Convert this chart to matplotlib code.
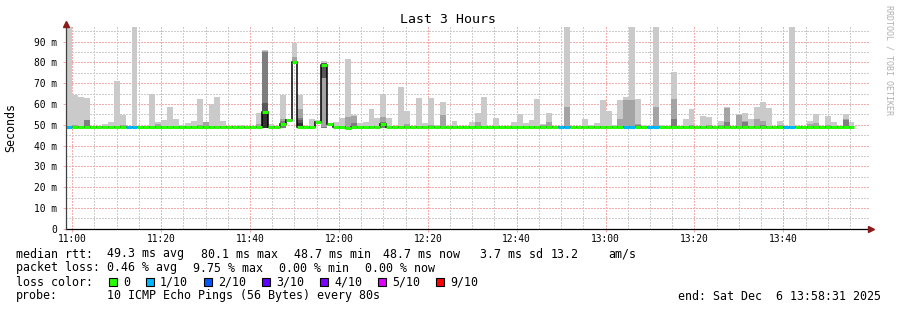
import numpy as np
import matplotlib
matplotlib.use("Agg")
import matplotlib.pyplot as plt
from matplotlib.patches import Rectangle

W, H = 897, 310
STEP = 80 / 60.0  # one probe round = 80 s, x axis is minutes after 11:00

# smoke: sorted pings per 80 s round (ms); p10 = slowest, p9, p8 inner ones
smoke_max = [
    97.0, 64.3, 63.4, 62.9, 48.9, 49.5, 50.5, 51.5, 71.0, 54.7,
    48.9, 97.0, 49.5, 48.9, 64.8, 51.3, 52.3, 58.4, 52.8, 50.0,
    50.7, 51.8, 62.4, 51.5, 60.2, 63.4, 51.8, 48.9, 48.9, 50.0,
    49.5, 48.9, 55.6, 86.0, 50.5, 49.6, 64.3, 52.8, 89.2, 64.3,
    48.9, 52.8, 52.3, 80.7, 50.8, 51.5, 53.4, 81.7, 54.7, 51.0,
    51.3, 57.5, 53.4, 64.8, 53.4, 48.9, 68.2, 56.6, 49.5, 62.8,
    50.7, 62.8, 50.0, 60.8, 48.9, 51.8, 49.6, 48.9, 51.3, 55.6,
    63.3, 48.9, 53.2, 48.9, 48.9, 51.3, 55.2, 50.7, 52.2, 62.4,
    50.3, 55.6, 48.9, 48.9, 97.0, 48.9, 48.9, 53.0, 50.0, 50.7,
    62.0, 56.6, 50.0, 62.0, 63.4, 97.0, 62.2, 50.0, 48.9, 97.0,
    50.0, 48.9, 75.4, 48.9, 52.7, 57.5, 48.9, 54.2, 53.7, 48.9,
    51.8, 58.6, 48.9, 55.0, 55.5, 52.8, 58.4, 61.0, 58.0, 48.9,
    51.8, 48.9, 97.0, 48.9, 48.9, 51.8, 55.2, 48.9, 54.2, 51.3,
    48.9, 55.2, 51.3]
smoke_p9 = [
    48.9, 50.0, 48.9, 52.5, 48.9, 48.9, 48.9, 48.9, 48.9, 50.0,
    48.9, 48.9, 48.9, 48.9, 48.9, 50.2, 48.9, 48.9, 48.9, 48.9,
    48.9, 48.9, 50.0, 51.3, 48.9, 48.9, 48.9, 48.9, 48.9, 48.9,
    48.9, 48.9, 50.2, 85.5, 48.9, 48.9, 52.6, 48.9, 82.8, 57.8,
    48.9, 48.9, 48.9, 79.6, 48.9, 48.9, 48.9, 53.9, 54.2, 48.9,
    48.9, 48.9, 48.9, 53.9, 48.9, 48.9, 48.9, 50.2, 48.9, 48.9,
    48.9, 50.0, 48.9, 54.7, 48.9, 48.9, 48.9, 48.9, 48.9, 51.3,
    48.9, 48.9, 48.9, 48.9, 48.9, 48.9, 48.9, 48.9, 48.9, 48.9,
    50.0, 51.3, 48.9, 48.9, 58.4, 48.9, 48.9, 48.9, 48.9, 48.9,
    48.9, 48.9, 48.9, 53.0, 62.0, 62.0, 50.2, 48.9, 48.9, 58.4,
    48.9, 48.9, 62.4, 48.9, 48.9, 50.0, 48.9, 48.9, 50.0, 48.9,
    50.0, 58.0, 48.9, 54.7, 52.0, 48.9, 52.7, 52.0, 48.9, 48.9,
    50.0, 48.9, 48.9, 48.9, 48.9, 50.3, 51.0, 48.9, 50.0, 48.9,
    48.9, 52.8, 48.9]
smoke_p8 = [
    48.9, 48.9, 48.9, 52.3, 48.9, 48.9, 48.9, 48.9, 48.9, 48.9,
    48.9, 48.9, 48.9, 48.9, 48.9, 48.9, 48.9, 48.9, 48.9, 48.9,
    48.9, 48.9, 48.9, 48.9, 48.9, 48.9, 48.9, 48.9, 48.9, 48.9,
    48.9, 48.9, 48.9, 85.2, 48.9, 48.9, 51.8, 48.9, 48.9, 53.5,
    48.9, 48.9, 48.9, 48.9, 48.9, 48.9, 48.9, 48.9, 51.0, 48.9,
    48.9, 48.9, 48.9, 51.5, 48.9, 48.9, 48.9, 48.9, 48.9, 48.9,
    48.9, 48.9, 48.9, 48.9, 48.9, 48.9, 48.9, 48.9, 48.9, 48.9,
    48.9, 48.9, 48.9, 48.9, 48.9, 48.9, 48.9, 48.9, 48.9, 48.9,
    48.9, 48.9, 48.9, 48.9, 48.9, 48.9, 48.9, 48.9, 48.9, 48.9,
    48.9, 48.9, 48.9, 48.9, 48.9, 48.9, 50.0, 48.9, 48.9, 48.9,
    48.9, 48.9, 52.8, 48.9, 48.9, 48.9, 48.9, 48.9, 48.9, 48.9,
    48.9, 51.3, 48.9, 48.9, 51.3, 48.9, 48.9, 50.0, 48.9, 48.9,
    48.9, 48.9, 48.9, 48.9, 48.9, 48.9, 48.9, 48.9, 48.9, 48.9,
    48.9, 52.5, 48.9]
smoke_min = [
    48.6, 48.6, 48.6, 48.6, 48.6, 48.6, 48.6, 48.6, 48.6, 48.6,
    48.6, 48.6, 48.6, 48.6, 48.6, 48.6, 48.6, 48.6, 48.6, 48.6,
    48.6, 48.6, 48.6, 48.6, 48.6, 48.6, 48.6, 48.6, 48.6, 48.6,
    48.6, 48.6, 48.6, 48.6, 48.6, 48.6, 48.6, 51.4, 80.0, 48.6,
    48.6, 48.6, 50.4, 48.6, 49.6, 48.6, 48.6, 48.6, 48.6, 48.6,
    48.6, 48.6, 48.6, 48.6, 48.6, 48.6, 48.6, 48.6, 48.6, 48.6,
    48.6, 48.6, 48.6, 48.6, 48.6, 48.6, 48.6, 48.6, 48.6, 48.6,
    48.6, 48.6, 48.6, 48.6, 48.6, 48.6, 48.6, 48.6, 48.6, 48.6,
    48.6, 48.6, 48.6, 48.6, 48.6, 48.6, 48.6, 48.6, 48.6, 48.6,
    48.6, 48.6, 48.6, 48.6, 48.6, 48.6, 48.6, 48.6, 48.6, 48.6,
    48.6, 48.6, 48.6, 48.6, 48.6, 48.6, 48.6, 48.6, 48.6, 48.6,
    48.6, 48.6, 48.6, 48.6, 48.6, 48.6, 48.6, 48.6, 48.6, 48.6,
    48.6, 48.6, 48.6, 48.6, 48.6, 48.6, 48.6, 48.6, 48.6, 48.6,
    48.6, 48.6, 48.6]
# innermost (darkest) smoke, only where it shows
inner_steps = [33, 39, 43]
inner_lo = [48.6, 48.6, 72.4]
inner_hi = [60.3, 52.4, 79.6]
core_steps = [33, 39]
core_lo = [48.6, 48.6]
core_hi = [56.6, 51.0]

median_ms = [
    49.1, 49.1, 49.1, 49.1, 49.1, 49.1, 49.1, 49.1, 49.1, 49.1,
    49.1, 49.1, 49.1, 49.1, 49.1, 49.1, 49.1, 49.1, 49.1, 49.1,
    49.1, 49.1, 49.1, 49.1, 49.1, 49.1, 49.1, 49.1, 49.1, 49.1,
    49.1, 49.1, 49.1, 56.0, 49.1, 49.1, 50.2, 52.2, 80.1, 49.1,
    49.1, 49.1, 51.3, 78.8, 50.2, 49.1, 49.1, 48.6, 49.1, 49.1,
    49.1, 49.1, 49.1, 50.2, 49.1, 49.1, 49.1, 49.1, 49.1, 49.1,
    49.1, 49.1, 49.1, 49.1, 49.1, 49.1, 49.1, 49.1, 49.1, 49.1,
    49.1, 49.1, 49.1, 49.1, 49.1, 49.1, 49.1, 49.1, 49.1, 49.1,
    49.1, 49.1, 49.1, 49.1, 49.1, 49.1, 49.1, 49.1, 49.1, 49.1,
    49.1, 49.1, 49.1, 49.1, 49.1, 49.1, 49.1, 49.1, 49.1, 49.1,
    49.1, 49.1, 49.1, 49.1, 49.1, 49.1, 49.1, 49.1, 49.1, 49.1,
    49.1, 49.1, 49.1, 49.1, 49.1, 49.1, 49.1, 49.1, 49.1, 49.1,
    49.1, 49.1, 49.1, 49.1, 49.1, 49.1, 49.1, 49.1, 49.1, 49.1,
    49.1, 49.1, 49.1]
# lost pings out of 10 per round
loss = [
    1, 0, 0, 0, 0, 0, 0, 0, 0, 0,
    1, 1, 0, 0, 0, 0, 0, 0, 0, 0,
    0, 0, 0, 0, 0, 0, 0, 0, 0, 0,
    0, 0, 0, 0, 0, 0, 0, 0, 0, 0,
    0, 0, 0, 0, 0, 0, 0, 0, 0, 0,
    0, 0, 0, 0, 0, 0, 0, 0, 0, 0,
    0, 0, 0, 0, 0, 0, 0, 0, 0, 0,
    0, 0, 0, 0, 0, 0, 0, 0, 0, 0,
    0, 0, 0, 1, 1, 0, 0, 0, 0, 0,
    0, 0, 0, 0, 1, 1, 0, 0, 1, 1,
    0, 0, 0, 0, 0, 0, 0, 0, 0, 0,
    0, 0, 0, 0, 0, 0, 0, 0, 0, 0,
    0, 1, 1, 0, 0, 0, 0, 0, 0, 0,
    0, 0, 0]

loss_labels = ["0", "1/10", "2/10", "3/10", "4/10", "5/10", "9/10"]
loss_colors = ["#26ff00", "#00b8ff", "#0059ff", "#5e00ff", "#7e00ff", "#dd00ff", "#ff0000"]
time_ticks = [0, 20, 40, 60, 80, 100, 120, 140, 160]
time_labels = ["11:00", "11:20", "11:40", "12:00", "12:20", "12:40", "13:00", "13:20", "13:40"]
ms_ticks = [0, 10, 20, 30, 40, 50, 60, 70, 80, 90]
ms_labels = ["0", "10 m", "20 m", "30 m", "40 m", "50 m", "60 m", "70 m", "80 m", "90 m"]

MONO = "DejaVu Sans Mono"
MGRID = "#f4acac"
GRID = "#cdcdcd"
ARROW = "#8b1a1a"


def fpos(x, y):
    return x / W, 1 - y / H


n = len(median_ms)
edges = -STEP + STEP * np.arange(n + 1)
left = edges[:-1]
floor = np.array(smoke_min)

fig = plt.figure(figsize=(W / 100, H / 100), dpi=100)
ax_l, ax_r, ax_t, ax_b = 65.6, 869.0, 26.0, 228.7
ax = fig.add_axes([ax_l / W, 1 - ax_b / H, (ax_r - ax_l) / W, (ax_b - ax_t) / H])
px_min = 800 / 180.0
x0 = -1.5
ax.set_xlim(x0, x0 + (ax_r - ax_l) / px_min)
ytop = (ax_b - ax_t) / 2.078
ax.set_ylim(0, ytop)

# dotted grid, 1px on / 1px off like rrdtool, under the smoke
dots = (0, (1.4, 1.4))
for m in np.arange(0, 180, 5):
    major = m % 20 == 0
    ax.axvline(m, color=MGRID if major else GRID, lw=0.72, ls=dots, zorder=0.5, antialiased=False)
for v in np.arange(5, ytop, 5):
    major = v % 10 == 0
    ax.axhline(v, color=MGRID if major else GRID, lw=0.72, ls=dots, zorder=0.5, antialiased=False)

# smoke, outer to inner
for top, col in [(smoke_max, "#cacaca"), (smoke_p9, "#a4a4a4"), (smoke_p8, "#7e7e7e")]:
    h = np.clip(np.array(top) - floor, 0, None)
    ax.bar(left, h, bottom=floor, width=STEP, align="edge", color=col, linewidth=0, zorder=1)
ax.bar(left[inner_steps], np.array(inner_hi) - np.array(inner_lo), bottom=inner_lo,
       width=STEP, align="edge", color="#585858", linewidth=0, zorder=1)
ax.bar(left[core_steps], np.array(core_hi) - np.array(core_lo), bottom=core_lo,
       width=STEP, align="edge", color="#323232", linewidth=0, zorder=1)

# median: thin black step line, loss-coloured bars on top
ax.stairs(median_ms, edges, baseline=None, color="black", lw=1.1, zorder=3)
ax.hlines(median_ms, left, edges[1:], colors=[loss_colors[k] for k in loss],
          lw=2.2, zorder=4, capstyle="butt")

for s in ax.spines.values():
    s.set_visible(False)
ax.plot([0, 1.0], [0, 0], transform=ax.transAxes, color="black", lw=0.9, clip_on=False, zorder=5)
ax.plot([0, 0], [0, 1.0], transform=ax.transAxes, color="#404040", lw=0.9, clip_on=False, zorder=5)
ax.plot([1.0025], [0], marker=">", ms=4, color=ARROW, transform=ax.transAxes, clip_on=False, zorder=6)
ax.plot([0], [1.012], marker="^", ms=4, color=ARROW, transform=ax.transAxes, clip_on=False, zorder=6)

ax.set_xticks(time_ticks)
ax.set_xticklabels(time_labels, family=MONO, fontsize=6.9)
ax.set_yticks(ms_ticks)
ax.set_yticklabels(ms_labels, family=MONO, fontsize=6.9)
ax.tick_params(axis="x", length=2.5, width=0.7, color=MGRID, pad=1.5)
ax.tick_params(axis="y", length=2.5, width=0.7, color=MGRID, pad=3.5)

fig.text(*fpos(447.5, 19.5), "Last 3 Hours", ha="center", va="center", family=MONO, fontsize=9.5)
fig.text(*fpos(10.5, 127.5), "Seconds", rotation=90, ha="center", va="center", family=MONO, fontsize=8.4)
fig.text(*fpos(888.5, 60), "RRDTOOL / TOBI OETIKER", rotation=270, ha="center", va="center",
         family=MONO, fontsize=6, color="#b0b0b0")

# legend lines under the graph
rows = [
    (257.5, [(16, "median rtt:"), (107, "49.3 ms avg"), (201, "80.1 ms max"), (294, "48.7 ms min"),
             (383, "48.7 ms now"), (480, "3.7 ms sd"), (551, "13.2"), (608, "am/s")]),
    (271.5, [(16, "packet loss:"), (107, "0.46 % avg"), (193, "9.75 % max"), (279, "0.00 % min"),
             (365, "0.00 % now")]),
    (285.5, [(16, "loss color:")]),
    (299.5, [(16, "probe:"), (107, "10 ICMP Echo Pings (56 Bytes) every 80s")]),
]
for y, parts in rows:
    for x, txt in parts:
        fig.text(*fpos(x, y), txt, ha="left", va="baseline", family=MONO, fontsize=8.4)
fig.text(*fpos(881, 299.5), "end: Sat Dec  6 13:58:31 2025", ha="right", va="baseline",
         family=MONO, fontsize=8.4)

box_x = [109, 146, 204, 262, 320, 378, 436]
for bx, lab, col in zip(box_x, loss_labels, loss_colors):
    fig.add_artist(Rectangle(fpos(bx, 285.5), 7.5 / W, 8 / H, transform=fig.transFigure,
                             facecolor=col, edgecolor="black", lw=0.8))
    fig.text(*fpos(bx + 14, 285.5), lab, ha="left", va="baseline", family=MONO, fontsize=8.4)

fig.savefig("out.png", dpi=100)
